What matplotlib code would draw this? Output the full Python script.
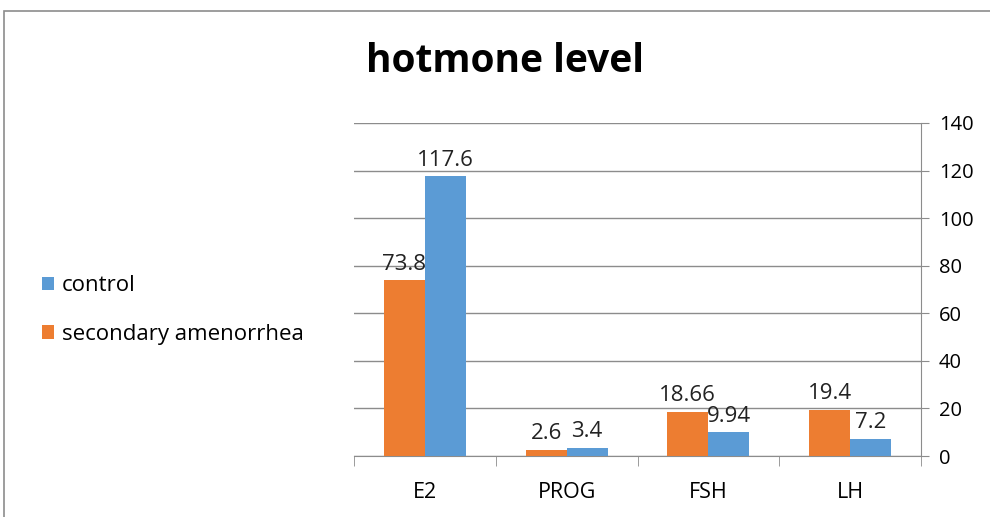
import numpy as np
import matplotlib.pyplot as plt
from matplotlib.patches import Rectangle

plt.rcParams['font.family'] = ['Open Sans', 'DejaVu Sans']

categories = ['E2', 'PROG', 'FSH', 'LH']
amenorrhea = [73.8, 2.6, 18.66, 19.4]
control = [117.6, 3.4, 9.94, 7.2]
amen_labels = ['73.8', '2.6', '18.66', '19.4']
control_labels = ['117.6', '3.4', '9.94', '7.2']

orange = '#ED7D31'
blue = '#5B9BD5'

fig = plt.figure(figsize=(9.9, 5.17), dpi=100)
fig.patches.append(Rectangle((4 / 990, -0.05), 1.0, 1.05 - 11 / 517, transform=fig.transFigure,
                             fill=False, edgecolor='#8c8c8c', lw=1.2))
ax = fig.add_axes([354 / 990, 61 / 517, 567 / 990, 333 / 517])

x = np.arange(len(categories))
w = 0.29
b1 = ax.bar(x - w / 2, amenorrhea, w, color=orange, label='secondary amenorrhea', zorder=3)
b2 = ax.bar(x + w / 2, control, w, color=blue, label='control', zorder=3)

for bars, labs in ((b1, amen_labels), (b2, control_labels)):
    for rect, lab in zip(bars, labs):
        ax.annotate(lab, (rect.get_x() + rect.get_width() / 2, rect.get_height()),
                    xytext=(0, 4), textcoords='offset points', ha='center', va='bottom',
                    fontsize=16, color='#222222')

ax.set_xlim(-0.5, len(categories) - 0.5)
ax.set_ylim(0, 140)
ax.set_yticks(range(0, 141, 20))
ax.yaxis.tick_right()
ax.set_xticks(x)
ax.set_xticklabels(categories)
ax.set_xticks(np.arange(-0.5, len(categories), 1), minor=True)
ax.tick_params(axis='x', which='major', length=0, pad=19, labelsize=15.5)
ax.tick_params(axis='x', which='minor', length=7, color='#8c8c8c', direction='out')
ax.tick_params(axis='y', length=6, color='#8c8c8c', labelsize=14.5, pad=7, direction='out')
ax.grid(axis='y', color='#8c8c8c', lw=1, zorder=0)
for s in ['top', 'left']:
    ax.spines[s].set_visible(False)
for s in ['bottom', 'right']:
    ax.spines[s].set_color('#8c8c8c')

fig.text(505 / 990, 1 - 62 / 517, 'hotmone level', ha='center', va='center',
         fontsize=28, fontweight='bold')

handles = [b2, b1]
fig.legend(handles, ['control', 'secondary amenorrhea'], loc='center left',
           bbox_to_anchor=(22 / 990, 1 - 310 / 517), frameon=False, fontsize=16,
           handlelength=0.55, handleheight=0.55, handletextpad=0.35, labelspacing=1.25)

fig.savefig('out.png', dpi=100)
